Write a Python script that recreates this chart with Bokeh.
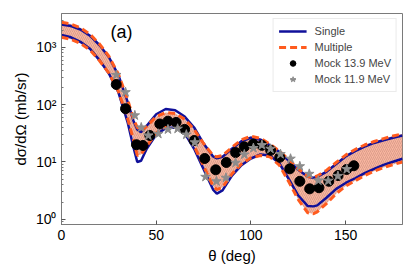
from bokeh.plotting import figure
from bokeh.models import Range1d, FixedTicker, Legend, LegendItem, Label, ColumnDataSource
from bokeh.embed import file_html
from bokeh.resources import INLINE
import math

# ---------------- data ----------------
theta = [0, 5, 10, 15, 20, 25, 30, 35, 38, 40, 42, 45, 50, 55, 60, 65, 70, 75, 80, 82, 85,
         90, 95, 100, 105, 110, 115, 120, 125, 130, 133, 135, 140, 145, 150, 155, 160,
         165, 170, 175, 180]
single_upper = [2500, 2350, 2050, 1600, 1100, 680, 330, 110, 52, 37, 33, 43, 68, 84, 80, 62,
                40, 21, 12.5, 11.6, 12.3, 17, 23, 26.5, 24.5, 19.5, 15, 10.5, 7.3, 5.5, 5.3,
                5.5, 6.8, 9.2, 12.5, 15.5, 18.5, 21.5, 24, 26.5, 29]
single_lower = [1650, 1500, 1250, 950, 600, 350, 165, 48, 18, 10, 10.5, 17, 30, 39, 40, 32,
                17, 7.5, 3.3, 2.8, 3.2, 5.8, 8.8, 11.5, 13.5, 13, 9.5, 5.0, 2.6, 1.7, 1.68,
                1.75, 2.4, 3.4, 4.3, 5.2, 6.4, 7.6, 8.9, 10.1, 11.4]
multi_upper = [2750, 2550, 2200, 1700, 1150, 700, 345, 120, 56, 40, 35, 42, 62, 73, 70, 56,
               37, 21, 13, 12.3, 13, 18, 24.5, 28, 26, 20.5, 15.5, 11, 7.6, 5.6, 5.4, 5.7,
               7.2, 9.8, 13.2, 16.5, 19.8, 22.8, 25.5, 28.5, 31]
multi_lower = [1500, 1380, 1170, 900, 590, 355, 172, 56, 24, 13, 13.5, 19, 32, 42, 42, 34,
               19, 8.5, 3.8, 3.3, 3.6, 6.2, 9.2, 11.8, 13, 12.3, 8.8, 4.5, 2.2, 1.3, 1.25,
               1.35, 1.9, 2.8, 3.8, 4.7, 5.8, 6.9, 8.0, 9.0, 10]

mock139_theta = [28.9, 33.8, 39.6, 43.0, 46.6, 51.9, 56.2, 60.5, 65.0, 70.0, 75.6, 81.4, 87.0,
                 91.9, 96.5, 101.2, 105.8, 110.4, 115.2, 120.5, 125.8, 131.0, 135.9, 141.1,
                 146.0, 150.5, 154.3]
mock139_xs = [225, 85, 20, 19.4, 29, 46, 51.5, 49, 37, 23.7, 11.5, 7.3, 9.8, 14.6, 18.4,
              20.5, 19.5, 16, 12.1, 7.6, 4.6, 3.4, 3.55, 4.6, 5.8, 7.4, 8.6]

mock119_theta = [28.9, 33.8, 38.7, 42.1, 45.8, 51.1, 56.2, 61.3, 65.9, 70.4, 76.0, 81.8, 86.8,
                 91.9, 96.5, 101.3, 105.8, 110.3, 115.6, 120.9, 125.8, 130.8, 135.6, 140.8,
                 145.9, 150.6]
mock119_xs = [330, 165, 65, 40, 29, 31, 37, 38, 30, 22, 5.5, 4.6, 5.3, 9.7, 13.5, 17.5, 19.7,
              17, 13.7, 11.4, 8.4, 6.2, 4.75, 4.7, 5.7, 7.5]

y_ticks = [1, 10, 100, 1000]
y_tick_labels = ["10⁰", "10¹", "10²", "10³"]
x_ticks = [0, 50, 100, 150]

BLUE = "#10109a"
ORANGE = "#ff5b1e"
GREY = "#8c8c8c"
FONT = "Liberation Sans"

# ---------------- figure ----------------
p = figure(frame_width=341, frame_height=211, y_axis_type="log",
           x_range=Range1d(0, 180), y_range=Range1d(0.811, 3900),
           output_backend="svg", toolbar_location=None,
           min_border_left=61, min_border_right=13, min_border_top=13, min_border_bottom=53)
p.background_fill_color = "white"
p.border_fill_color = "white"
p.outline_line_color = "#7a7a7a"
p.outline_line_width = 1
p.xgrid.visible = False
p.ygrid.visible = False

band = ColumnDataSource(dict(theta=theta, su=single_upper, sl=single_lower,
                             mu=multi_upper, ml=multi_lower))

p.varea(x="theta", y1="ml", y2="mu", source=band, fill_color="#f7a88e", fill_alpha=0.85,
        hatch_pattern="/", hatch_color="#7a4a48", hatch_alpha=0.45, hatch_scale=4,
        hatch_weight=0.5)

r_single = p.line("theta", "su", source=band, line_color=BLUE, line_width=2.5)
p.line("theta", "sl", source=band, line_color=BLUE, line_width=2.5)
r_multi = p.line("theta", "mu", source=band, line_color=ORANGE, line_width=3,
                 line_dash="7 4")
p.line("theta", "ml", source=band, line_color=ORANGE, line_width=3, line_dash="7 4")

r_m139 = p.scatter(mock139_theta, mock139_xs, marker="circle", size=10,
                   fill_color="black", line_color="black")
r_m119 = p.scatter(mock119_theta, mock119_xs, marker="star", size=10,
                   fill_color=GREY, line_color=GREY)

# legend-only glyphs (not plotted: NaN positions)
nan = float("nan")
eb139 = p.scatter([nan], [nan], marker="dash", angle=math.pi / 2, size=13,
                  line_color="black", line_width=1.5)
lg139 = p.scatter([nan], [nan], marker="circle", size=8, fill_color="black",
                  line_color="black")
eb119 = p.scatter([nan], [nan], marker="dash", angle=math.pi / 2, size=13,
                  line_color=GREY, line_width=1.5)
lg119 = p.scatter([nan], [nan], marker="star", size=9, fill_color=GREY, line_color=GREY)

# ---------------- axes ----------------
p.xaxis.ticker = FixedTicker(ticks=x_ticks)
p.yaxis.ticker = FixedTicker(ticks=y_ticks,
                             minor_ticks=[m * 10 ** e for e in range(-1, 4) for m in range(2, 10)])
p.yaxis.major_label_overrides = {t: s for t, s in zip(y_ticks, y_tick_labels)}
p.xaxis.axis_label = "θ (deg)"
p.yaxis.axis_label = "dσ/dΩ (mb/sr)"
for ax in (p.xaxis, p.yaxis):
    ax.axis_line_color = "#7a7a7a"
    ax.major_tick_in = 4
    ax.major_tick_out = 0
    ax.minor_tick_in = 2
    ax.minor_tick_out = 0
    ax.major_tick_line_color = "#555555"
    ax.minor_tick_line_color = "#777777"
    ax.major_label_text_font = FONT
    ax.major_label_text_font_size = "14px"
    ax.major_label_text_color = "black"
    ax.axis_label_text_font = FONT
    ax.axis_label_text_font_size = "15px"
    ax.axis_label_text_font_style = "normal"
    ax.axis_label_text_color = "black"
    ax.major_label_standoff = 5
    ax.axis_label_standoff = 4
p.xaxis.minor_tick_line_color = None

p.add_layout(Label(x=31.7, y=1890, text="(a)", text_align="center", text_baseline="middle",
                   text_font=FONT, text_font_size="18px", text_color="black"))

legend = Legend(items=[
    LegendItem(label="Single", renderers=[r_single]),
    LegendItem(label="Multiple", renderers=[r_multi]),
    LegendItem(label="Mock 13.9 MeV", renderers=[eb139, lg139]),
    LegendItem(label="Mock 11.9 MeV", renderers=[eb119, lg119]),
], location="top_right")
legend.margin = 5
legend.padding = 5
legend.spacing = 2
legend.label_height = 14
legend.glyph_height = 14
legend.glyph_width = 28
legend.label_standoff = 8
legend.label_text_font = FONT
legend.label_text_font_size = "11px"
legend.border_line_color = "#d8d8d8"
legend.border_line_width = 1
legend.background_fill_alpha = 0.9
p.add_layout(legend)

open("out.html", "w").write(file_html(p, INLINE))
